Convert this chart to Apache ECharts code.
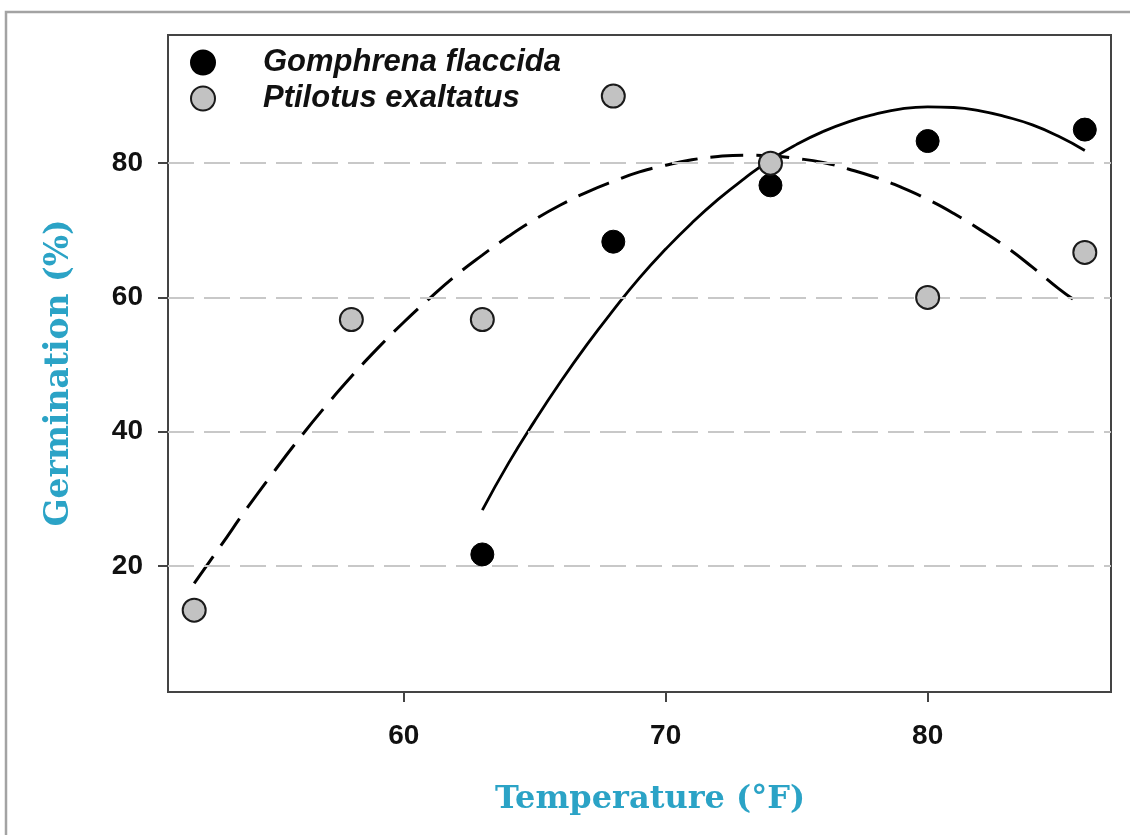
<!DOCTYPE html>
<html>
<head>
<meta charset="utf-8">
<script src="https://cdn.jsdelivr.net/npm/echarts@6/dist/echarts.min.js"></script>
<style>
  html, body { margin: 0; padding: 0; background: #fff; }
  #chart { width: 1130px; height: 835px; }
</style>
</head>
<body>
<div id="chart"></div>
<script>
// ---- data ----
const gomphrenaTemps = [63, 68, 74, 80, 86];
const gomphrenaGerm = [21.7, 68.3, 76.7, 83.3, 85.0];
const ptilotusTemps = [52, 58, 63, 68, 74, 80, 86];
const ptilotusGerm = [13.4, 56.7, 56.7, 90.0, 80.0, 60.0, 66.7];

// fitted curves
const gomphrenaFitX = [63, 64, 65, 66, 67, 68, 69, 70, 71, 72, 73, 74, 75, 76, 77, 78, 79, 80, 81, 82, 83, 84, 85, 86];
const gomphrenaFitY = [28.3, 35.3, 41.6, 47.5, 53.0, 58.1, 62.9, 67.2, 71.1, 74.6, 77.7, 80.5, 82.8, 84.7, 86.2, 87.3, 88.1, 88.4, 88.3, 87.8, 86.9, 85.7, 84.0, 81.9];
const ptilotusFitX = [52, 53, 54, 55, 56, 57, 58, 59, 60, 61, 62, 63, 64, 65, 66, 67, 68, 69, 70, 71, 72, 73, 74, 75, 76, 77, 78, 79, 80, 81, 82, 83, 84, 85, 85.6];
const ptilotusFitY = [17.4, 22.9, 28.5, 33.8, 38.9, 43.7, 48.2, 52.4, 56.3, 59.9, 63.3, 66.3, 69.1, 71.6, 73.8, 75.7, 77.3, 78.7, 79.7, 80.5, 81.0, 81.2, 81.1, 80.7, 80.1, 79.1, 77.9, 76.4, 74.6, 72.5, 70.1, 67.5, 64.5, 61.3, 59.6];

const xTicks = [60, 70, 80];
const yTicks = [20, 40, 60, 80];
const seriesNames = ['Gomphrena flaccida', 'Ptilotus exaltatus'];

const zip = (xs, ys) => xs.map((x, i) => [x, ys[i]]);

const teal = '#2ba3c6';
const frame = '#444';
const labelFont = { fontFamily: '"Liberation Sans", Arial, sans-serif', fontWeight: 'bold', fontSize: 28, color: '#111' };

const chart = echarts.init(document.getElementById('chart'), null, { renderer: 'canvas' });

chart.setOption({
  animation: false,
  backgroundColor: '#fff',
  grid: {
    left: 168, right: 19, top: 35, bottom: 143,
    show: true, borderColor: frame, borderWidth: 2, backgroundColor: 'transparent'
  },
  xAxis: {
    type: 'value', min: 51, max: 87,
    axisLine: { show: true, lineStyle: { color: frame, width: 2 } },
    axisTick: { show: true, length: 10, customValues: xTicks, lineStyle: { color: frame, width: 2 } },
    axisLabel: Object.assign({ margin: 30, customValues: xTicks }, labelFont),
    splitLine: { show: false }
  },
  yAxis: {
    type: 'value', min: 1.2, max: 99.1,
    axisLine: { show: true, lineStyle: { color: frame, width: 2 } },
    axisTick: { show: true, length: 10, customValues: yTicks, lineStyle: { color: frame, width: 2 } },
    axisLabel: Object.assign({ margin: 25, customValues: yTicks }, labelFont),
    splitLine: { show: false }
  },
  legend: {
    data: seriesNames,
    orient: 'vertical',
    left: 185, top: 42,
    itemWidth: 24, itemHeight: 24, itemGap: 5,
    icon: 'circle',
    textStyle: {
      fontFamily: '"Liberation Sans", Arial, sans-serif',
      fontStyle: 'italic', fontWeight: 'bold', fontSize: 31, color: '#111',
      lineHeight: 30, padding: [0, 0, 0, 43]
    }
  },
  graphic: [
    { type: 'rect', silent: true, z: -10,
      shape: { x: 6, y: 12, width: 1300, height: 1000 },
      style: { fill: 'none', stroke: '#a3a3a3', lineWidth: 2.5 } },
    { type: 'text', silent: true, x: 59, y: 373, rotation: Math.PI / 2,
      style: { text: 'Germination (%)', align: 'center', verticalAlign: 'middle',
               font: 'bold 33px "DejaVu Serif", serif', fill: teal } },
    { type: 'text', silent: true, x: 650, y: 800,
      style: { text: 'Temperature (°F)', align: 'center', verticalAlign: 'middle',
               font: 'bold 32px "DejaVu Serif", serif', fill: teal } }
  ],
  series: [
    {
      name: 'gridlines', type: 'line', data: [], silent: true,
      markLine: {
        silent: true, symbol: 'none', label: { show: false },
        lineStyle: { color: '#c8c8c8', width: 2, type: [26, 10] },
        data: yTicks.map(v => ({ yAxis: v }))
      }
    },
    {
      name: 'Gomphrena fit', type: 'line', smooth: true, showSymbol: false, z: 3,
      data: zip(gomphrenaFitX, gomphrenaFitY),
      lineStyle: { color: '#000', width: 2.8 }
    },
    {
      name: 'Ptilotus fit', type: 'line', smooth: true, showSymbol: false, z: 3,
      data: zip(ptilotusFitX, ptilotusFitY),
      lineStyle: { color: '#000', width: 3, type: [33, 13] }
    },
    {
      name: seriesNames[0], type: 'scatter', symbol: 'circle', symbolSize: 23, z: 5,
      data: zip(gomphrenaTemps, gomphrenaGerm),
      itemStyle: { color: '#000', borderColor: '#000', borderWidth: 1, opacity: 1 }
    },
    {
      name: seriesNames[1], type: 'scatter', symbol: 'circle', symbolSize: 23, z: 5,
      data: zip(ptilotusTemps, ptilotusGerm),
      itemStyle: { color: '#c2c2c2', borderColor: '#1a1a1a', borderWidth: 2, opacity: 1 }
    }
  ]
});
</script>
</body>
</html>
